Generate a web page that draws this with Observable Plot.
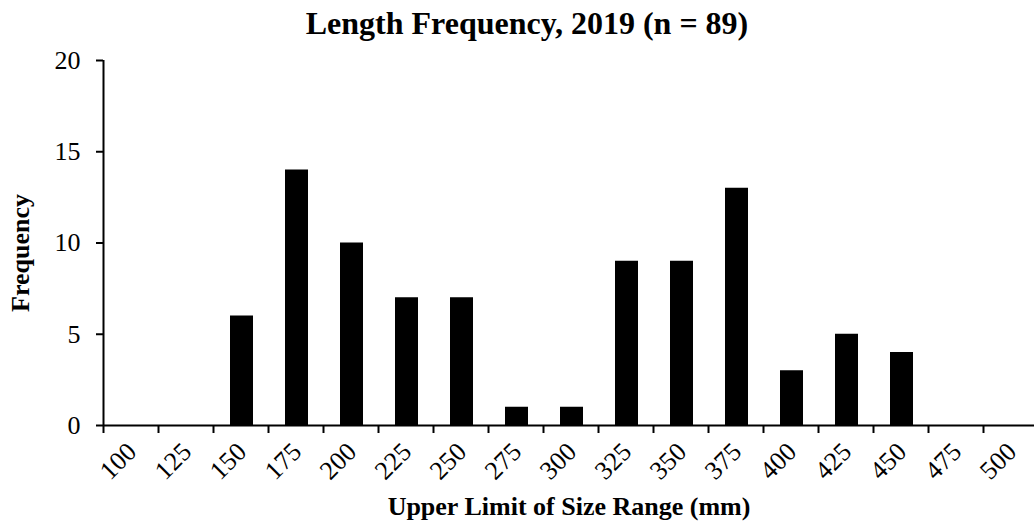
<!DOCTYPE html>
<html>
<head>
<meta charset="utf-8">
<script src="https://cdn.jsdelivr.net/npm/d3@7"></script>
<script src="https://cdn.jsdelivr.net/npm/@observablehq/plot@0.6"></script>
<style>
  html, body { margin: 0; padding: 0; background: #fff; }
  #wrap { position: relative; width: 1034px; height: 522px; overflow: hidden; }
  #title { position: absolute; top: 3px; left: 0; width: 1034px; padding-left: 20px; box-sizing: border-box;
           text-align: center; font: bold 32px "Liberation Serif", "Times New Roman", serif; line-height: 40px; color: #000; }
  svg { font-family: "Liberation Serif", "Times New Roman", serif; }
</style>
</head>
<body>
<div id="wrap"><div id="title">Length Frequency, 2019 (n = 89)</div></div>
<script>
const sizes = ["100","125","150","175","200","225","250","275","300","325","350","375","400","425","450","475","500"];
const counts = [0, 0, 6, 14, 10, 7, 7, 1, 1, 9, 9, 13, 3, 5, 4, 0, 0];
const yTicks = [0, 5, 10, 15, 20];
const xTitle = "Upper Limit of Size Range (mm)";
const yTitle = "Frequency";

const data = sizes.map((s, i) => ({size: s, count: counts[i]}));

const W = 1034, H = 522;
const xRange = [103, 1038];
const step = (xRange[1] - xRange[0]) / sizes.length;

const chart = Plot.plot({
  width: W,
  height: H,
  marginTop: 60,
  marginBottom: 97,
  marginLeft: 103,
  marginRight: 0,
  style: {fontFamily: '"Liberation Serif", "Times New Roman", serif', color: "#000", background: "#fff", overflow: "visible"},
  x: {type: "band", domain: sizes, range: xRange, padding: 0, axis: null},
  y: {domain: [0, 20], axis: null},
  marks: [
    Plot.barY(data, {x: "size", y: "count", fill: "#000", insetLeft: 17, insetRight: 15}),
    // y axis ticks + labels
    Plot.axisY({ticks: yTicks, tickSize: 7, tickPadding: 16, fontSize: 26, strokeWidth: 2, label: null}),
    // x axis line and y axis line
    Plot.ruleY([0], {stroke: "#000", strokeWidth: 2}),
    Plot.ruleX([sizes[0]], {x: d => d, dx: -step / 2, y1: 0, y2: 20, stroke: "#000", strokeWidth: 2}),
    // x boundary tick marks
    Plot.ruleX(sizes, {x: d => d, dx: -step / 2, y1: 0, y2: 0, insetBottom: -8, stroke: "#000", strokeWidth: 2}),
    // x tick labels
    Plot.text(sizes, {x: d => d, y: 0, text: d => d, rotate: -45, textAnchor: "end", lineAnchor: "middle", dx: 1, dy: 22, fontSize: 26, fill: "#000"}),
    // axis titles
    Plot.text([xTitle], {frameAnchor: "bottom", lineAnchor: "middle", textAnchor: "middle", dy: 81, fontSize: 26, fontWeight: "bold", fill: "#000"}),
    Plot.text([yTitle], {frameAnchor: "left", rotate: -90, textAnchor: "middle", lineAnchor: "middle", dx: -83, dy: 10, fontSize: 26, fontWeight: "bold", fill: "#000"})
  ]
});
document.getElementById("wrap").prepend(chart);
</script>
</body>
</html>
